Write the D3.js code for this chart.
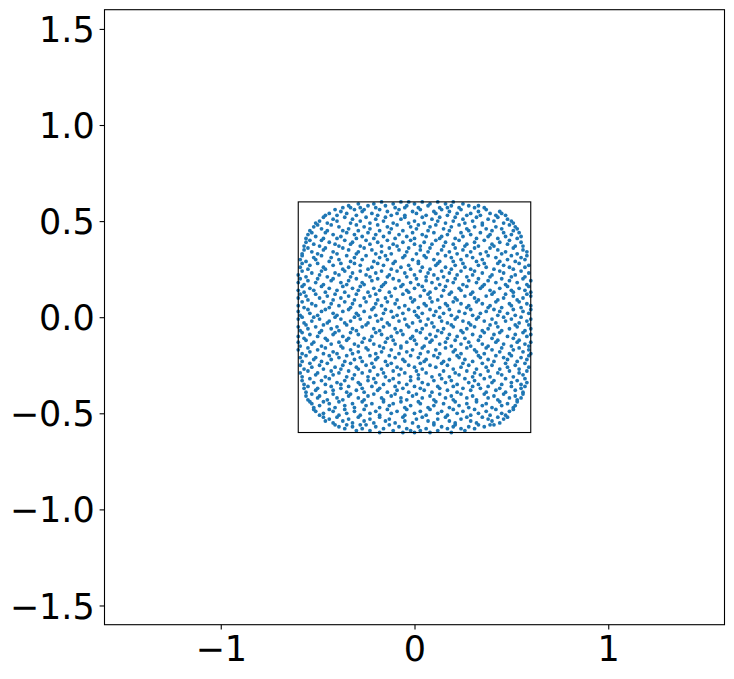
<!DOCTYPE html>
<html lang="en">
<head>
    <meta charset="UTF-8">
    <script src="https://d3js.org/d3.v7.min.js"></script>
    <style>
        body {margin: 0; background-color: #ffffff}
        svg {display: block}
    </style>
</head>
<body>
<svg class="chart"></svg>
<script type="text/javascript">
    // axis limits, ticks and the square outline
    let axisLimits = [-1.6, 1.6];
    let xTicks = [-1, 0, 1];
    let xTickLabels = ["\u22121", "0", "1"];
    let yTicks = [-1.5, -1.0, -0.5, 0.0, 0.5, 1.0, 1.5];
    let yTickLabels = ["\u22121.5", "\u22121.0", "\u22120.5", "0.0", "0.5", "1.0", "1.5"];
    let boxCorners = [[-0.6, -0.6], [0.6, 0.6]];

    // scattered points (x, y), top to bottom
    let points = [
        [-0.37,0.57],[-0.34,0.58],[-0.33,0.57],[-0.29,0.59],[-0.28,0.57],[-0.24,0.58],[-0.21,0.59],[-0.2,0.57],[-0.17,0.6],[-0.15,0.58],[-0.11,0.59],[-0.1,0.57],[-0.07,0.6],[-0.04,0.58],[-0.03,0.6],[0.0,0.59],[0.02,0.57],[0.04,0.6],[0.07,0.58],[0.08,0.59],[0.12,0.6],[0.13,0.57],[0.16,0.59],[0.19,0.58],[0.2,0.6],[0.23,0.57],[0.25,0.59],[0.28,0.58],[0.31,0.57],[0.33,0.58],[0.36,0.57],[-0.05,0.57],[0.17,0.57],
        [-0.46,0.53],[-0.44,0.54],[-0.41,0.56],[-0.4,0.53],[-0.38,0.55],[-0.35,0.54],[-0.31,0.56],[-0.3,0.53],[-0.27,0.55],[-0.26,0.56],[-0.22,0.54],[-0.19,0.53],[-0.18,0.56],[-0.14,0.55],[-0.12,0.53],[-0.09,0.54],[-0.08,0.56],[-0.05,0.53],[-0.01,0.55],[0.01,0.54],[0.03,0.56],[0.06,0.53],[0.1,0.55],[0.11,0.54],[0.14,0.56],[0.17,0.53],[0.18,0.55],[0.22,0.54],[0.24,0.56],[0.27,0.53],[0.29,0.54],[0.33,0.55],[0.34,0.53],[0.37,0.56],[0.39,0.54],[0.42,0.53],[0.44,0.55],[0.45,0.54],[0.47,0.53],
        [-0.51,0.49],[-0.49,0.5],[-0.47,0.52],[-0.45,0.49],[-0.42,0.51],[-0.4,0.5],[-0.36,0.52],[-0.33,0.49],[-0.32,0.51],[-0.28,0.5],[-0.25,0.52],[-0.23,0.49],[-0.2,0.51],[-0.16,0.5],[-0.15,0.52],[-0.11,0.49],[-0.07,0.51],[-0.05,0.52],[-0.03,0.49],[0.0,0.5],[0.04,0.52],[0.05,0.49],[0.09,0.51],[0.12,0.5],[0.13,0.52],[0.16,0.49],[0.2,0.5],[0.21,0.52],[0.25,0.51],[0.26,0.49],[0.3,0.5],[0.32,0.52],[0.35,0.49],[0.38,0.51],[0.41,0.5],[0.43,0.52],[0.46,0.49],[0.48,0.51],[0.5,0.5],[0.51,0.49],
        [-0.54,0.45],[-0.52,0.47],[-0.5,0.48],[-0.48,0.46],[-0.45,0.45],[-0.43,0.48],[-0.39,0.47],[-0.37,0.45],[-0.34,0.46],[-0.3,0.48],[-0.29,0.45],[-0.26,0.47],[-0.23,0.46],[-0.19,0.48],[-0.18,0.45],[-0.14,0.47],[-0.12,0.46],[-0.09,0.48],[-0.06,0.45],[-0.02,0.47],[0.01,0.46],[0.02,0.48],[0.07,0.45],[0.08,0.47],[0.11,0.48],[0.15,0.46],[0.18,0.45],[0.19,0.47],[0.23,0.48],[0.27,0.46],[0.28,0.45],[0.31,0.47],[0.35,0.48],[0.37,0.46],[0.4,0.45],[0.42,0.47],[0.45,0.46],[0.49,0.48],[0.51,0.45],[0.53,0.46],[0.52,0.47],
        [-0.56,0.41],[-0.55,0.43],[-0.53,0.44],[-0.51,0.42],[-0.47,0.41],[-0.46,0.44],[-0.42,0.43],[-0.4,0.41],[-0.38,0.42],[-0.35,0.44],[-0.31,0.43],[-0.3,0.41],[-0.27,0.42],[-0.24,0.44],[-0.21,0.41],[-0.2,0.43],[-0.16,0.42],[-0.13,0.44],[-0.1,0.41],[-0.08,0.43],[-0.04,0.42],[-0.01,0.44],[0.0,0.41],[0.04,0.43],[0.06,0.42],[0.1,0.44],[0.13,0.41],[0.14,0.42],[0.17,0.43],[0.21,0.41],[0.24,0.44],[0.25,0.42],[0.29,0.43],[0.32,0.41],[0.34,0.44],[0.38,0.42],[0.39,0.43],[0.43,0.41],[0.46,0.44],[0.47,0.42],[0.5,0.43],[0.53,0.41],[0.55,0.42],[0.54,0.44],
        [-0.57,0.37],[-0.56,0.39],[-0.54,0.4],[-0.52,0.38],[-0.49,0.37],[-0.48,0.4],[-0.44,0.39],[-0.41,0.38],[-0.39,0.37],[-0.36,0.4],[-0.33,0.38],[-0.32,0.39],[-0.28,0.37],[-0.25,0.4],[-0.23,0.38],[-0.19,0.39],[-0.17,0.37],[-0.14,0.4],[-0.11,0.38],[-0.09,0.37],[-0.06,0.39],[-0.02,0.4],[0.0,0.38],[0.03,0.37],[0.05,0.39],[0.09,0.38],[0.11,0.4],[0.15,0.37],[0.16,0.39],[0.2,0.38],[0.23,0.4],[0.26,0.37],[0.27,0.38],[0.31,0.39],[0.33,0.37],[0.36,0.4],[0.4,0.38],[0.41,0.37],[0.44,0.39],[0.48,0.38],[0.49,0.4],[0.52,0.37],[0.55,0.39],[0.56,0.37],
        [-0.58,0.33],[-0.57,0.35],[-0.55,0.36],[-0.53,0.34],[-0.5,0.33],[-0.47,0.35],[-0.46,0.36],[-0.42,0.34],[-0.4,0.33],[-0.37,0.36],[-0.34,0.35],[-0.3,0.33],[-0.29,0.34],[-0.26,0.36],[-0.22,0.35],[-0.2,0.33],[-0.17,0.34],[-0.13,0.36],[-0.12,0.33],[-0.08,0.35],[-0.04,0.34],[-0.03,0.36],[0.01,0.33],[0.03,0.35],[0.07,0.34],[0.08,0.36],[0.12,0.33],[0.14,0.35],[0.18,0.34],[0.21,0.36],[0.22,0.33],[0.25,0.35],[0.29,0.34],[0.31,0.36],[0.34,0.33],[0.37,0.34],[0.39,0.36],[0.43,0.35],[0.45,0.33],[0.47,0.34],[0.51,0.36],[0.53,0.33],[0.56,0.35],[0.58,0.34],
        [-0.59,0.3],[-0.58,0.32],[-0.56,0.29],[-0.52,0.31],[-0.51,0.3],[-0.48,0.32],[-0.44,0.29],[-0.43,0.31],[-0.39,0.3],[-0.35,0.32],[-0.33,0.29],[-0.31,0.31],[-0.27,0.3],[-0.25,0.32],[-0.21,0.29],[-0.18,0.31],[-0.15,0.32],[-0.14,0.3],[-0.1,0.29],[-0.06,0.31],[-0.05,0.32],[-0.01,0.3],[0.02,0.29],[0.05,0.32],[0.06,0.31],[0.1,0.3],[0.13,0.29],[0.16,0.32],[0.19,0.31],[0.2,0.29],[0.24,0.3],[0.27,0.32],[0.3,0.31],[0.32,0.29],[0.35,0.3],[0.38,0.32],[0.42,0.31],[0.44,0.29],[0.48,0.3],[0.5,0.32],[0.52,0.29],[0.55,0.31],[0.57,0.3],[0.58,0.32],
        [-0.59,0.26],[-0.58,0.28],[-0.55,0.25],[-0.54,0.27],[-0.5,0.28],[-0.47,0.26],[-0.46,0.25],[-0.42,0.27],[-0.38,0.28],[-0.37,0.25],[-0.34,0.26],[-0.31,0.28],[-0.28,0.27],[-0.24,0.25],[-0.22,0.26],[-0.19,0.28],[-0.16,0.27],[-0.12,0.25],[-0.11,0.28],[-0.07,0.26],[-0.03,0.27],[-0.02,0.25],[0.02,0.28],[0.04,0.26],[0.08,0.25],[0.11,0.27],[0.12,0.28],[0.16,0.26],[0.19,0.25],[0.21,0.27],[0.25,0.28],[0.26,0.26],[0.29,0.25],[0.33,0.27],[0.36,0.28],[0.37,0.26],[0.41,0.25],[0.43,0.28],[0.46,0.27],[0.49,0.26],[0.51,0.25],[0.54,0.28],[0.57,0.26],[0.59,0.27],
        [-0.6,0.22],[-0.58,0.24],[-0.56,0.21],[-0.53,0.23],[-0.49,0.22],[-0.48,0.24],[-0.45,0.21],[-0.41,0.23],[-0.39,0.22],[-0.36,0.24],[-0.33,0.21],[-0.32,0.23],[-0.28,0.24],[-0.25,0.22],[-0.23,0.21],[-0.2,0.23],[-0.17,0.24],[-0.14,0.21],[-0.13,0.22],[-0.09,0.24],[-0.05,0.23],[-0.04,0.21],[0.0,0.22],[0.03,0.24],[0.06,0.21],[0.07,0.23],[0.1,0.22],[0.14,0.24],[0.15,0.21],[0.18,0.23],[0.22,0.22],[0.24,0.24],[0.27,0.21],[0.3,0.22],[0.31,0.24],[0.35,0.23],[0.39,0.21],[0.4,0.22],[0.44,0.24],[0.46,0.23],[0.5,0.21],[0.52,0.22],[0.55,0.24],[0.57,0.21],[0.59,0.23],
        [-0.6,0.18],[-0.59,0.2],[-0.57,0.17],[-0.55,0.19],[-0.51,0.18],[-0.5,0.2],[-0.47,0.17],[-0.43,0.19],[-0.42,0.2],[-0.38,0.18],[-0.35,0.17],[-0.34,0.19],[-0.3,0.2],[-0.27,0.18],[-0.26,0.17],[-0.22,0.19],[-0.19,0.2],[-0.16,0.17],[-0.15,0.18],[-0.11,0.2],[-0.08,0.19],[-0.06,0.17],[-0.02,0.18],[0.01,0.2],[0.02,0.17],[0.06,0.19],[0.09,0.18],[0.12,0.2],[0.13,0.17],[0.17,0.19],[0.2,0.18],[0.21,0.2],[0.25,0.17],[0.28,0.19],[0.32,0.18],[0.33,0.2],[0.36,0.17],[0.38,0.19],[0.42,0.18],[0.45,0.2],[0.47,0.17],[0.49,0.19],[0.53,0.18],[0.56,0.2],[0.58,0.17],[0.6,0.19],
        [-0.6,0.14],[-0.58,0.16],[-0.57,0.13],[-0.54,0.15],[-0.52,0.14],[-0.48,0.16],[-0.46,0.13],[-0.44,0.15],[-0.4,0.14],[-0.37,0.16],[-0.36,0.13],[-0.32,0.15],[-0.29,0.14],[-0.28,0.16],[-0.24,0.13],[-0.21,0.15],[-0.18,0.14],[-0.17,0.16],[-0.13,0.13],[-0.1,0.15],[-0.07,0.16],[-0.04,0.14],[-0.03,0.13],[0.0,0.15],[0.04,0.16],[0.05,0.14],[0.08,0.13],[0.11,0.15],[0.15,0.14],[0.16,0.16],[0.19,0.13],[0.23,0.15],[0.24,0.14],[0.27,0.16],[0.3,0.13],[0.34,0.15],[0.35,0.16],[0.39,0.14],[0.41,0.13],[0.44,0.15],[0.48,0.16],[0.5,0.14],[0.51,0.13],[0.54,0.15],[0.57,0.14],[0.59,0.16],[0.6,0.13],
        [-0.6,0.1],[-0.59,0.12],[-0.56,0.11],[-0.55,0.09],[-0.51,0.12],[-0.49,0.1],[-0.45,0.11],[-0.42,0.09],[-0.41,0.12],[-0.38,0.1],[-0.34,0.11],[-0.31,0.09],[-0.3,0.12],[-0.26,0.1],[-0.23,0.11],[-0.2,0.12],[-0.19,0.09],[-0.15,0.1],[-0.12,0.11],[-0.09,0.09],[-0.06,0.12],[-0.02,0.1],[0.0,0.09],[0.03,0.11],[0.07,0.12],[0.08,0.1],[0.12,0.09],[0.14,0.11],[0.18,0.12],[0.21,0.1],[0.22,0.09],[0.26,0.11],[0.29,0.12],[0.31,0.1],[0.33,0.09],[0.37,0.11],[0.4,0.12],[0.43,0.09],[0.46,0.1],[0.47,0.12],[0.51,0.11],[0.53,0.09],[0.56,0.1],[0.58,0.12],[0.6,0.11],
        [-0.6,0.06],[-0.58,0.08],[-0.57,0.05],[-0.53,0.07],[-0.51,0.06],[-0.47,0.08],[-0.44,0.05],[-0.43,0.07],[-0.39,0.06],[-0.36,0.08],[-0.33,0.05],[-0.32,0.07],[-0.28,0.06],[-0.25,0.08],[-0.21,0.05],[-0.2,0.07],[-0.17,0.06],[-0.14,0.08],[-0.1,0.07],[-0.08,0.05],[-0.05,0.06],[-0.01,0.08],[0.02,0.05],[0.05,0.07],[0.06,0.06],[0.09,0.08],[0.13,0.05],[0.16,0.07],[0.17,0.06],[0.2,0.08],[0.24,0.07],[0.27,0.05],[0.28,0.06],[0.32,0.08],[0.35,0.07],[0.38,0.05],[0.39,0.06],[0.42,0.08],[0.45,0.05],[0.49,0.07],[0.5,0.06],[0.54,0.08],[0.55,0.05],[0.58,0.07],[0.6,0.06],
        [-0.6,0.03],[-0.59,0.01],[-0.55,0.04],[-0.54,0.02],[-0.5,0.01],[-0.48,0.03],[-0.46,0.04],[-0.42,0.02],[-0.4,0.01],[-0.37,0.03],[-0.34,0.04],[-0.3,0.02],[-0.29,0.01],[-0.26,0.03],[-0.22,0.04],[-0.2,0.01],[-0.16,0.02],[-0.15,0.04],[-0.12,0.03],[-0.09,0.01],[-0.06,0.02],[-0.03,0.04],[0.0,0.03],[0.01,0.01],[0.04,0.02],[0.08,0.04],[0.1,0.01],[0.11,0.03],[0.15,0.02],[0.18,0.04],[0.19,0.01],[0.23,0.03],[0.26,0.02],[0.29,0.04],[0.3,0.01],[0.34,0.02],[0.37,0.03],[0.41,0.04],[0.43,0.01],[0.44,0.03],[0.48,0.02],[0.51,0.04],[0.52,0.01],[0.56,0.03],[0.59,0.02],[0.6,0.04],
        [-0.6,-0.01],[-0.58,0.0],[-0.57,-0.03],[-0.53,-0.02],[-0.52,0.0],[-0.49,-0.01],[-0.45,-0.03],[-0.44,-0.02],[-0.41,0.0],[-0.38,-0.01],[-0.36,-0.03],[-0.33,-0.02],[-0.31,0.0],[-0.28,-0.01],[-0.24,-0.03],[-0.23,0.0],[-0.19,-0.02],[-0.17,-0.01],[-0.14,-0.03],[-0.11,0.0],[-0.08,-0.02],[-0.05,-0.01],[-0.01,-0.03],[0.02,0.0],[0.03,-0.02],[0.07,-0.01],[0.09,-0.03],[0.13,0.0],[0.14,-0.02],[0.17,-0.03],[0.21,-0.01],[0.22,0.0],[0.25,-0.02],[0.28,-0.03],[0.32,-0.01],[0.33,0.0],[0.36,-0.02],[0.4,-0.01],[0.42,-0.03],[0.46,0.0],[0.47,-0.02],[0.5,-0.01],[0.54,-0.03],[0.55,0.0],[0.58,-0.02],[0.6,-0.01],
        [-0.6,-0.05],[-0.59,-0.07],[-0.56,-0.04],[-0.55,-0.06],[-0.51,-0.05],[-0.48,-0.07],[-0.47,-0.04],[-0.43,-0.06],[-0.4,-0.05],[-0.39,-0.07],[-0.35,-0.04],[-0.32,-0.06],[-0.3,-0.07],[-0.27,-0.05],[-0.25,-0.04],[-0.21,-0.06],[-0.18,-0.07],[-0.16,-0.05],[-0.13,-0.04],[-0.1,-0.06],[-0.07,-0.07],[-0.04,-0.04],[-0.03,-0.05],[0.01,-0.07],[0.04,-0.06],[0.06,-0.04],[0.1,-0.05],[0.12,-0.07],[0.15,-0.06],[0.19,-0.04],[0.2,-0.05],[0.24,-0.07],[0.27,-0.06],[0.29,-0.04],[0.31,-0.05],[0.35,-0.07],[0.38,-0.06],[0.39,-0.04],[0.43,-0.05],[0.45,-0.07],[0.49,-0.06],[0.52,-0.04],[0.53,-0.05],[0.57,-0.07],[0.59,-0.04],[0.6,-0.06],
        [-0.6,-0.1],[-0.58,-0.08],[-0.57,-0.11],[-0.54,-0.09],[-0.5,-0.1],[-0.49,-0.08],[-0.46,-0.11],[-0.42,-0.09],[-0.41,-0.08],[-0.37,-0.1],[-0.34,-0.11],[-0.33,-0.08],[-0.29,-0.09],[-0.26,-0.11],[-0.22,-0.1],[-0.2,-0.08],[-0.17,-0.09],[-0.14,-0.11],[-0.12,-0.1],[-0.09,-0.08],[-0.06,-0.09],[-0.02,-0.11],[-0.01,-0.1],[0.03,-0.08],[0.06,-0.11],[0.08,-0.09],[0.11,-0.1],[0.14,-0.08],[0.17,-0.11],[0.18,-0.09],[0.22,-0.1],[0.25,-0.08],[0.26,-0.11],[0.3,-0.09],[0.34,-0.1],[0.36,-0.08],[0.4,-0.11],[0.41,-0.09],[0.44,-0.08],[0.48,-0.1],[0.51,-0.11],[0.52,-0.09],[0.56,-0.08],[0.58,-0.1],[0.6,-0.09],
        [-0.6,-0.13],[-0.59,-0.15],[-0.56,-0.12],[-0.53,-0.14],[-0.52,-0.13],[-0.48,-0.15],[-0.45,-0.12],[-0.43,-0.14],[-0.39,-0.13],[-0.38,-0.15],[-0.35,-0.12],[-0.31,-0.14],[-0.29,-0.15],[-0.27,-0.13],[-0.23,-0.12],[-0.21,-0.14],[-0.18,-0.15],[-0.15,-0.13],[-0.11,-0.12],[-0.1,-0.14],[-0.07,-0.15],[-0.04,-0.13],[0.0,-0.12],[0.01,-0.14],[0.05,-0.15],[0.08,-0.13],[0.09,-0.12],[0.13,-0.14],[0.16,-0.13],[0.19,-0.15],[0.21,-0.12],[0.24,-0.14],[0.28,-0.13],[0.29,-0.15],[0.33,-0.12],[0.35,-0.14],[0.38,-0.15],[0.42,-0.13],[0.43,-0.12],[0.46,-0.14],[0.5,-0.15],[0.53,-0.13],[0.54,-0.12],[0.57,-0.14],[0.6,-0.13],[0.59,-0.15],
        [-0.6,-0.17],[-0.58,-0.19],[-0.55,-0.16],[-0.54,-0.18],[-0.5,-0.17],[-0.47,-0.19],[-0.46,-0.16],[-0.42,-0.18],[-0.4,-0.19],[-0.37,-0.16],[-0.33,-0.17],[-0.32,-0.19],[-0.29,-0.18],[-0.25,-0.16],[-0.24,-0.17],[-0.2,-0.19],[-0.17,-0.18],[-0.16,-0.16],[-0.12,-0.17],[-0.08,-0.19],[-0.07,-0.16],[-0.04,-0.18],[-0.01,-0.17],[0.03,-0.19],[0.04,-0.16],[0.07,-0.18],[0.11,-0.17],[0.13,-0.19],[0.16,-0.16],[0.2,-0.18],[0.21,-0.17],[0.24,-0.19],[0.27,-0.16],[0.31,-0.17],[0.32,-0.18],[0.36,-0.19],[0.37,-0.16],[0.4,-0.17],[0.44,-0.18],[0.45,-0.16],[0.49,-0.19],[0.51,-0.17],[0.54,-0.16],[0.56,-0.18],[0.59,-0.17],[0.6,-0.19],
        [-0.59,-0.21],[-0.58,-0.23],[-0.56,-0.2],[-0.52,-0.22],[-0.51,-0.21],[-0.48,-0.23],[-0.44,-0.2],[-0.43,-0.22],[-0.39,-0.21],[-0.36,-0.23],[-0.35,-0.2],[-0.31,-0.22],[-0.28,-0.21],[-0.27,-0.23],[-0.23,-0.2],[-0.2,-0.22],[-0.19,-0.21],[-0.15,-0.23],[-0.13,-0.2],[-0.1,-0.21],[-0.06,-0.22],[-0.05,-0.23],[-0.02,-0.2],[0.02,-0.21],[0.05,-0.23],[0.06,-0.22],[0.1,-0.2],[0.12,-0.21],[0.15,-0.23],[0.18,-0.22],[0.22,-0.2],[0.23,-0.21],[0.26,-0.22],[0.3,-0.23],[0.33,-0.2],[0.34,-0.21],[0.38,-0.22],[0.41,-0.23],[0.42,-0.2],[0.46,-0.21],[0.48,-0.22],[0.5,-0.2],[0.53,-0.23],[0.55,-0.21],[0.58,-0.22],[0.59,-0.2],
        [-0.59,-0.25],[-0.57,-0.27],[-0.54,-0.24],[-0.53,-0.26],[-0.49,-0.25],[-0.47,-0.27],[-0.45,-0.24],[-0.41,-0.26],[-0.38,-0.27],[-0.37,-0.25],[-0.33,-0.24],[-0.3,-0.26],[-0.29,-0.27],[-0.25,-0.25],[-0.22,-0.24],[-0.21,-0.26],[-0.17,-0.27],[-0.14,-0.25],[-0.12,-0.24],[-0.09,-0.26],[-0.07,-0.27],[-0.03,-0.25],[0.0,-0.26],[0.03,-0.24],[0.04,-0.27],[0.08,-0.25],[0.11,-0.26],[0.14,-0.24],[0.17,-0.25],[0.2,-0.27],[0.24,-0.26],[0.25,-0.24],[0.28,-0.25],[0.32,-0.27],[0.35,-0.24],[0.37,-0.26],[0.4,-0.25],[0.44,-0.27],[0.47,-0.24],[0.48,-0.26],[0.52,-0.25],[0.54,-0.27],[0.57,-0.24],[0.59,-0.26],
        [-0.59,-0.29],[-0.58,-0.31],[-0.55,-0.28],[-0.51,-0.3],[-0.5,-0.29],[-0.46,-0.31],[-0.43,-0.28],[-0.42,-0.3],[-0.39,-0.29],[-0.35,-0.31],[-0.34,-0.28],[-0.31,-0.3],[-0.27,-0.29],[-0.24,-0.31],[-0.23,-0.28],[-0.19,-0.3],[-0.16,-0.29],[-0.15,-0.31],[-0.11,-0.28],[-0.08,-0.3],[-0.05,-0.29],[-0.02,-0.31],[0.01,-0.28],[0.02,-0.3],[0.06,-0.29],[0.09,-0.31],[0.13,-0.3],[0.15,-0.28],[0.18,-0.31],[0.21,-0.29],[0.23,-0.3],[0.27,-0.28],[0.3,-0.31],[0.31,-0.29],[0.34,-0.3],[0.38,-0.28],[0.39,-0.31],[0.43,-0.29],[0.45,-0.3],[0.49,-0.28],[0.51,-0.31],[0.54,-0.29],[0.56,-0.3],[0.58,-0.28],
        [-0.58,-0.33],[-0.57,-0.35],[-0.54,-0.32],[-0.52,-0.34],[-0.48,-0.33],[-0.46,-0.35],[-0.44,-0.32],[-0.4,-0.34],[-0.38,-0.35],[-0.36,-0.33],[-0.32,-0.32],[-0.29,-0.34],[-0.28,-0.35],[-0.24,-0.33],[-0.21,-0.32],[-0.2,-0.34],[-0.16,-0.35],[-0.13,-0.33],[-0.11,-0.32],[-0.08,-0.34],[-0.04,-0.35],[-0.02,-0.33],[0.02,-0.32],[0.04,-0.34],[0.07,-0.35],[0.1,-0.33],[0.14,-0.32],[0.16,-0.34],[0.19,-0.33],[0.22,-0.35],[0.26,-0.32],[0.28,-0.34],[0.31,-0.33],[0.33,-0.35],[0.36,-0.32],[0.4,-0.34],[0.41,-0.33],[0.45,-0.35],[0.47,-0.32],[0.5,-0.34],[0.53,-0.33],[0.55,-0.35],[0.57,-0.32],[0.58,-0.34],
        [-0.57,-0.37],[-0.56,-0.39],[-0.55,-0.36],[-0.51,-0.38],[-0.5,-0.37],[-0.46,-0.39],[-0.43,-0.36],[-0.42,-0.38],[-0.38,-0.37],[-0.35,-0.39],[-0.34,-0.36],[-0.3,-0.38],[-0.27,-0.37],[-0.26,-0.39],[-0.22,-0.36],[-0.19,-0.38],[-0.18,-0.37],[-0.14,-0.39],[-0.1,-0.36],[-0.09,-0.38],[-0.06,-0.37],[-0.03,-0.39],[0.0,-0.36],[0.03,-0.37],[0.05,-0.38],[0.09,-0.39],[0.12,-0.36],[0.13,-0.37],[0.17,-0.38],[0.2,-0.36],[0.22,-0.39],[0.25,-0.37],[0.29,-0.38],[0.3,-0.36],[0.34,-0.37],[0.37,-0.39],[0.38,-0.36],[0.42,-0.38],[0.44,-0.37],[0.47,-0.39],[0.5,-0.36],[0.52,-0.38],[0.55,-0.37],[0.57,-0.36],[0.56,-0.39],
        [-0.56,-0.41],[-0.55,-0.43],[-0.53,-0.4],[-0.5,-0.42],[-0.49,-0.41],[-0.45,-0.43],[-0.42,-0.4],[-0.4,-0.42],[-0.37,-0.43],[-0.34,-0.41],[-0.33,-0.4],[-0.29,-0.42],[-0.26,-0.43],[-0.24,-0.41],[-0.21,-0.4],[-0.17,-0.42],[-0.16,-0.43],[-0.12,-0.41],[-0.1,-0.4],[-0.07,-0.42],[-0.04,-0.43],[-0.01,-0.41],[0.01,-0.4],[0.04,-0.42],[0.08,-0.41],[0.1,-0.43],[0.13,-0.4],[0.16,-0.42],[0.19,-0.41],[0.2,-0.43],[0.24,-0.4],[0.27,-0.42],[0.3,-0.41],[0.32,-0.43],[0.36,-0.4],[0.38,-0.42],[0.41,-0.41],[0.43,-0.43],[0.46,-0.4],[0.49,-0.42],[0.52,-0.41],[0.53,-0.43],[0.56,-0.4],[0.55,-0.42],
        [-0.53,-0.45],[-0.54,-0.44],[-0.52,-0.47],[-0.49,-0.46],[-0.47,-0.44],[-0.44,-0.45],[-0.41,-0.47],[-0.39,-0.44],[-0.36,-0.46],[-0.32,-0.45],[-0.31,-0.47],[-0.27,-0.44],[-0.25,-0.46],[-0.22,-0.45],[-0.18,-0.47],[-0.16,-0.44],[-0.13,-0.46],[-0.11,-0.45],[-0.07,-0.44],[-0.05,-0.47],[-0.02,-0.46],[0.02,-0.44],[0.03,-0.45],[0.07,-0.47],[0.1,-0.46],[0.11,-0.44],[0.15,-0.45],[0.18,-0.47],[0.21,-0.44],[0.23,-0.46],[0.27,-0.45],[0.28,-0.47],[0.32,-0.44],[0.35,-0.46],[0.37,-0.45],[0.4,-0.47],[0.44,-0.44],[0.45,-0.46],[0.48,-0.45],[0.51,-0.47],[0.53,-0.44],[0.52,-0.46],
        [-0.51,-0.49],[-0.52,-0.48],[-0.49,-0.51],[-0.47,-0.5],[-0.44,-0.48],[-0.42,-0.49],[-0.39,-0.51],[-0.36,-0.48],[-0.35,-0.5],[-0.31,-0.49],[-0.28,-0.51],[-0.26,-0.48],[-0.23,-0.5],[-0.2,-0.49],[-0.18,-0.51],[-0.14,-0.48],[-0.12,-0.5],[-0.09,-0.49],[-0.05,-0.51],[-0.04,-0.48],[0.0,-0.5],[0.03,-0.49],[0.06,-0.51],[0.08,-0.48],[0.12,-0.5],[0.14,-0.49],[0.17,-0.51],[0.2,-0.48],[0.22,-0.5],[0.25,-0.49],[0.29,-0.51],[0.31,-0.48],[0.33,-0.5],[0.37,-0.49],[0.39,-0.51],[0.42,-0.48],[0.45,-0.5],[0.47,-0.51],[0.49,-0.49],[0.51,-0.48],
        [-0.47,-0.52],[-0.46,-0.54],[-0.44,-0.53],[-0.42,-0.55],[-0.4,-0.52],[-0.37,-0.54],[-0.34,-0.53],[-0.32,-0.55],[-0.29,-0.52],[-0.26,-0.54],[-0.23,-0.53],[-0.21,-0.55],[-0.18,-0.52],[-0.15,-0.54],[-0.13,-0.53],[-0.1,-0.55],[-0.06,-0.52],[-0.05,-0.54],[-0.01,-0.55],[0.01,-0.53],[0.04,-0.52],[0.07,-0.54],[0.1,-0.55],[0.12,-0.53],[0.16,-0.52],[0.18,-0.54],[0.21,-0.55],[0.24,-0.53],[0.27,-0.52],[0.29,-0.54],[0.32,-0.55],[0.35,-0.52],[0.38,-0.53],[0.4,-0.54],[0.43,-0.52],[0.44,-0.55],[0.46,-0.53],[0.48,-0.52],
        [-0.41,-0.56],[-0.39,-0.57],[-0.36,-0.58],[-0.35,-0.56],[-0.32,-0.57],[-0.3,-0.59],[-0.27,-0.58],[-0.25,-0.56],[-0.23,-0.59],[-0.2,-0.57],[-0.18,-0.6],[-0.16,-0.58],[-0.13,-0.56],[-0.11,-0.59],[-0.08,-0.57],[-0.06,-0.6],[-0.04,-0.58],[-0.02,-0.59],[0.0,-0.6],[0.02,-0.57],[0.03,-0.59],[0.06,-0.58],[0.08,-0.6],[0.1,-0.56],[0.12,-0.59],[0.14,-0.57],[0.17,-0.58],[0.19,-0.6],[0.21,-0.56],[0.24,-0.58],[0.26,-0.59],[0.28,-0.57],[0.31,-0.58],[0.33,-0.56],[0.36,-0.57],[0.39,-0.56],[0.41,-0.56],[-0.28,-0.56],[0.2,-0.57]
    ];

    let chartWidth = 734;
    let chartHeight = 679;
    let plotLeft = 104.5, plotRight = 724.5, plotTop = 9.7, plotBottom = 624.7;

    let svg = d3.select('.chart')
        .attr('width', chartWidth)
        .attr('height', chartHeight);

    let xScale = d3.scaleLinear().domain(axisLimits).range([plotLeft, plotRight]);
    let yScale = d3.scaleLinear().domain(axisLimits).range([plotBottom, plotTop]);

    // scatter
    svg.append('g')
        .selectAll('circle')
        .data(points)
        .enter().append('circle')
        .attr('cx', d => xScale(d[0]))
        .attr('cy', d => yScale(d[1]))
        .attr('r', 1.9)
        .attr('fill', '#1f77b4');

    // square outline
    svg.append('rect')
        .attr('x', xScale(boxCorners[0][0]))
        .attr('y', yScale(boxCorners[1][1]))
        .attr('width', xScale(boxCorners[1][0]) - xScale(boxCorners[0][0]))
        .attr('height', yScale(boxCorners[0][1]) - yScale(boxCorners[1][1]))
        .attr('fill', 'none')
        .attr('stroke', 'black')
        .attr('stroke-width', 1.1);

    // axes
    let xAxis = d3.axisBottom(xScale)
        .tickValues(xTicks)
        .tickFormat((d, i) => xTickLabels[i])
        .tickSize(4.9)
        .tickPadding(4.9);
    let yAxis = d3.axisLeft(yScale)
        .tickValues(yTicks)
        .tickFormat((d, i) => yTickLabels[i])
        .tickSize(4.9)
        .tickPadding(4.9);

    let gx = svg.append('g')
        .attr('transform', 'translate(0,' + plotBottom + ')')
        .call(xAxis);
    let gy = svg.append('g')
        .attr('transform', 'translate(' + plotLeft + ',0)')
        .call(yAxis);

    [gx, gy].forEach(g => {
        g.select('.domain').remove();
        g.selectAll('.tick line').attr('stroke', 'black').attr('stroke-width', 1.1);
        g.selectAll('.tick text')
            .attr('fill', 'black')
            .style('font-family', 'DejaVu Sans')
            .style('font-size', '35px');
    });
    gy.selectAll('.tick text').attr('dy', '0.36em');
    gx.selectAll('.tick text').attr('dy', '0.76em');

    // frame
    svg.append('rect')
        .attr('x', plotLeft)
        .attr('y', plotTop)
        .attr('width', plotRight - plotLeft)
        .attr('height', plotBottom - plotTop)
        .attr('fill', 'none')
        .attr('stroke', 'black')
        .attr('stroke-width', 1.1);
</script>
</body>
</html>
